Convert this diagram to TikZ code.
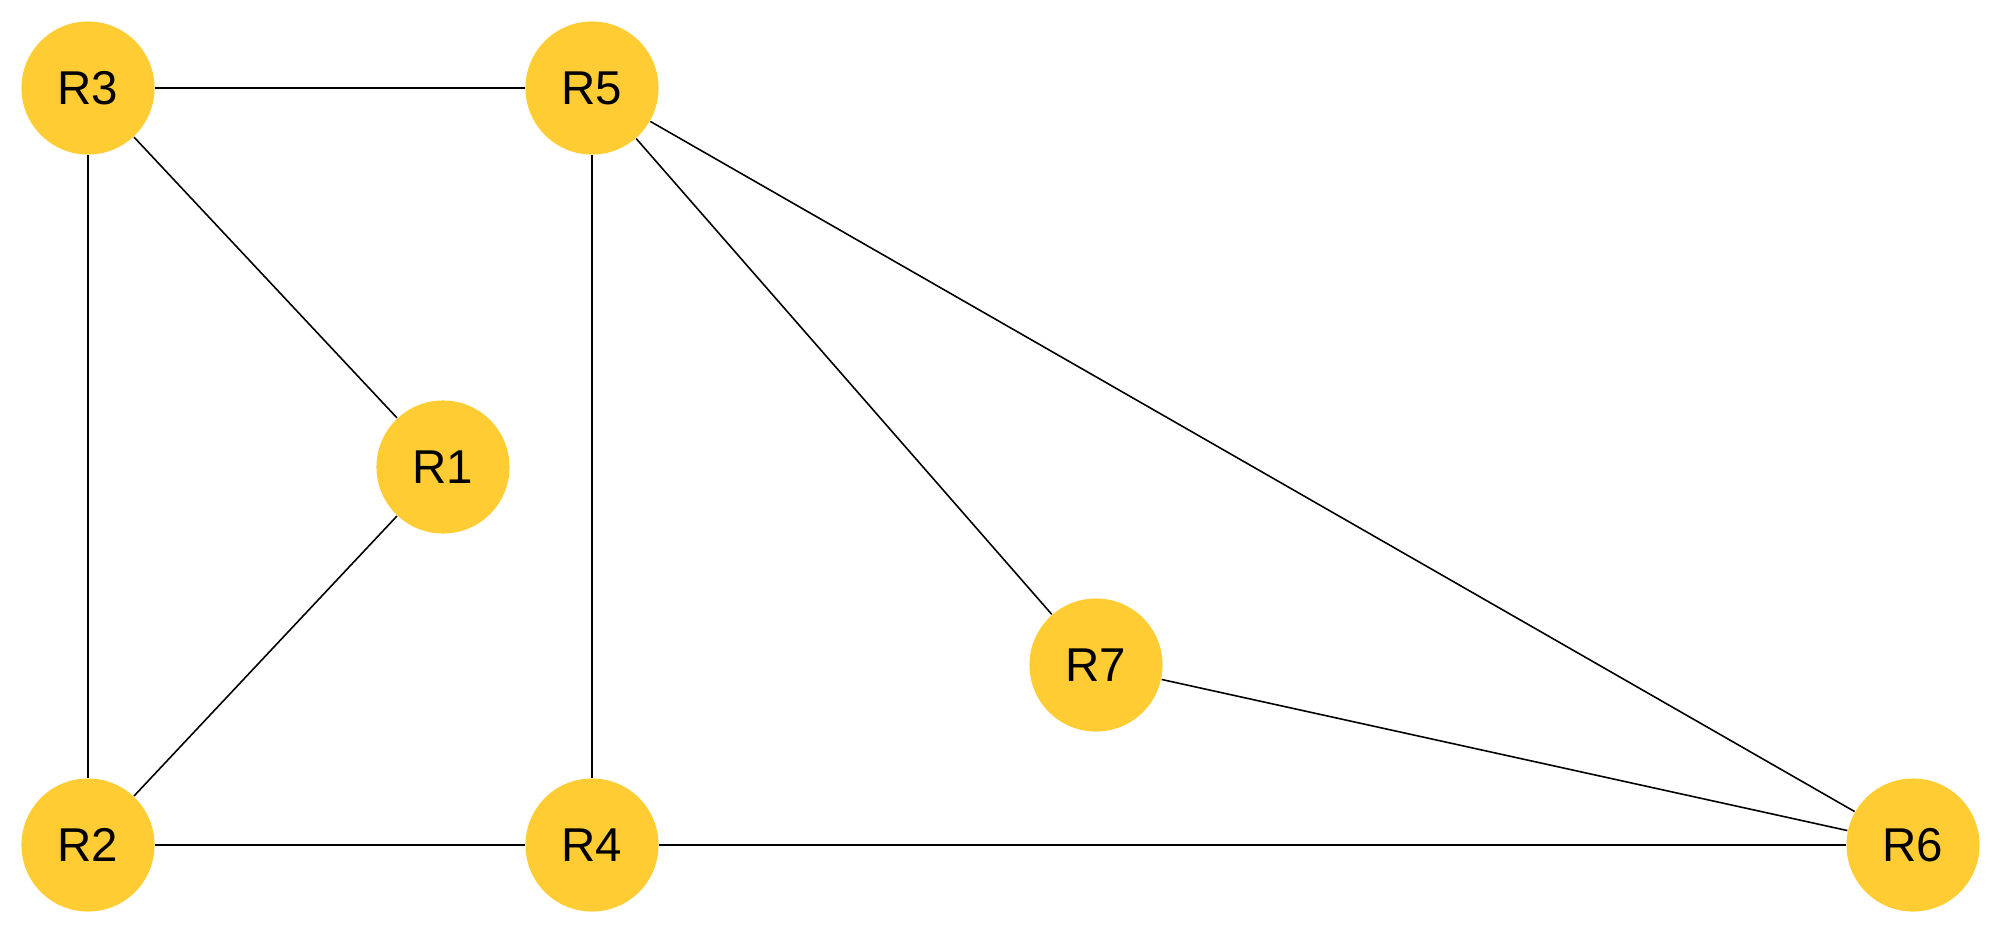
\documentclass[tikz,border=0pt]{standalone}
\usepackage{fontspec}
\setmainfont{Liberation Sans}
\definecolor{nodeyellow}{RGB}{255,204,51}
\begin{document}
\begin{tikzpicture}[x=0.01cm,y=-0.01cm,
  router/.style={circle,fill=nodeyellow,minimum size=1.33cm,inner sep=0pt,font=\fontsize{13.5}{16}\selectfont},
  link/.style={line width=0.45pt,black}]
\useasboundingbox (0,0) rectangle (2000,933);
\node[router] (R3) at (88,88) {R3};
\node[router] (R5) at (592,88) {R5};
\node[router] (R1) at (443,467) {R1};
\node[router] (R2) at (88,845) {R2};
\node[router] (R4) at (592,845) {R4};
\node[router] (R7) at (1096,665) {R7};
\node[router] (R6) at (1913,845) {R6};
\draw[link] (R3) -- (R5);
\draw[link] (R3) -- (R1);
\draw[link] (R3) -- (R2);
\draw[link] (R1) -- (R2);
\draw[link] (R2) -- (R4);
\draw[link] (R5) -- (R4);
\draw[link] (R5) -- (R7);
\draw[link] (R5) -- (R6);
\draw[link] (R7) -- (R6);
\draw[link] (R4) -- (R6);
\end{tikzpicture}
\end{document}
